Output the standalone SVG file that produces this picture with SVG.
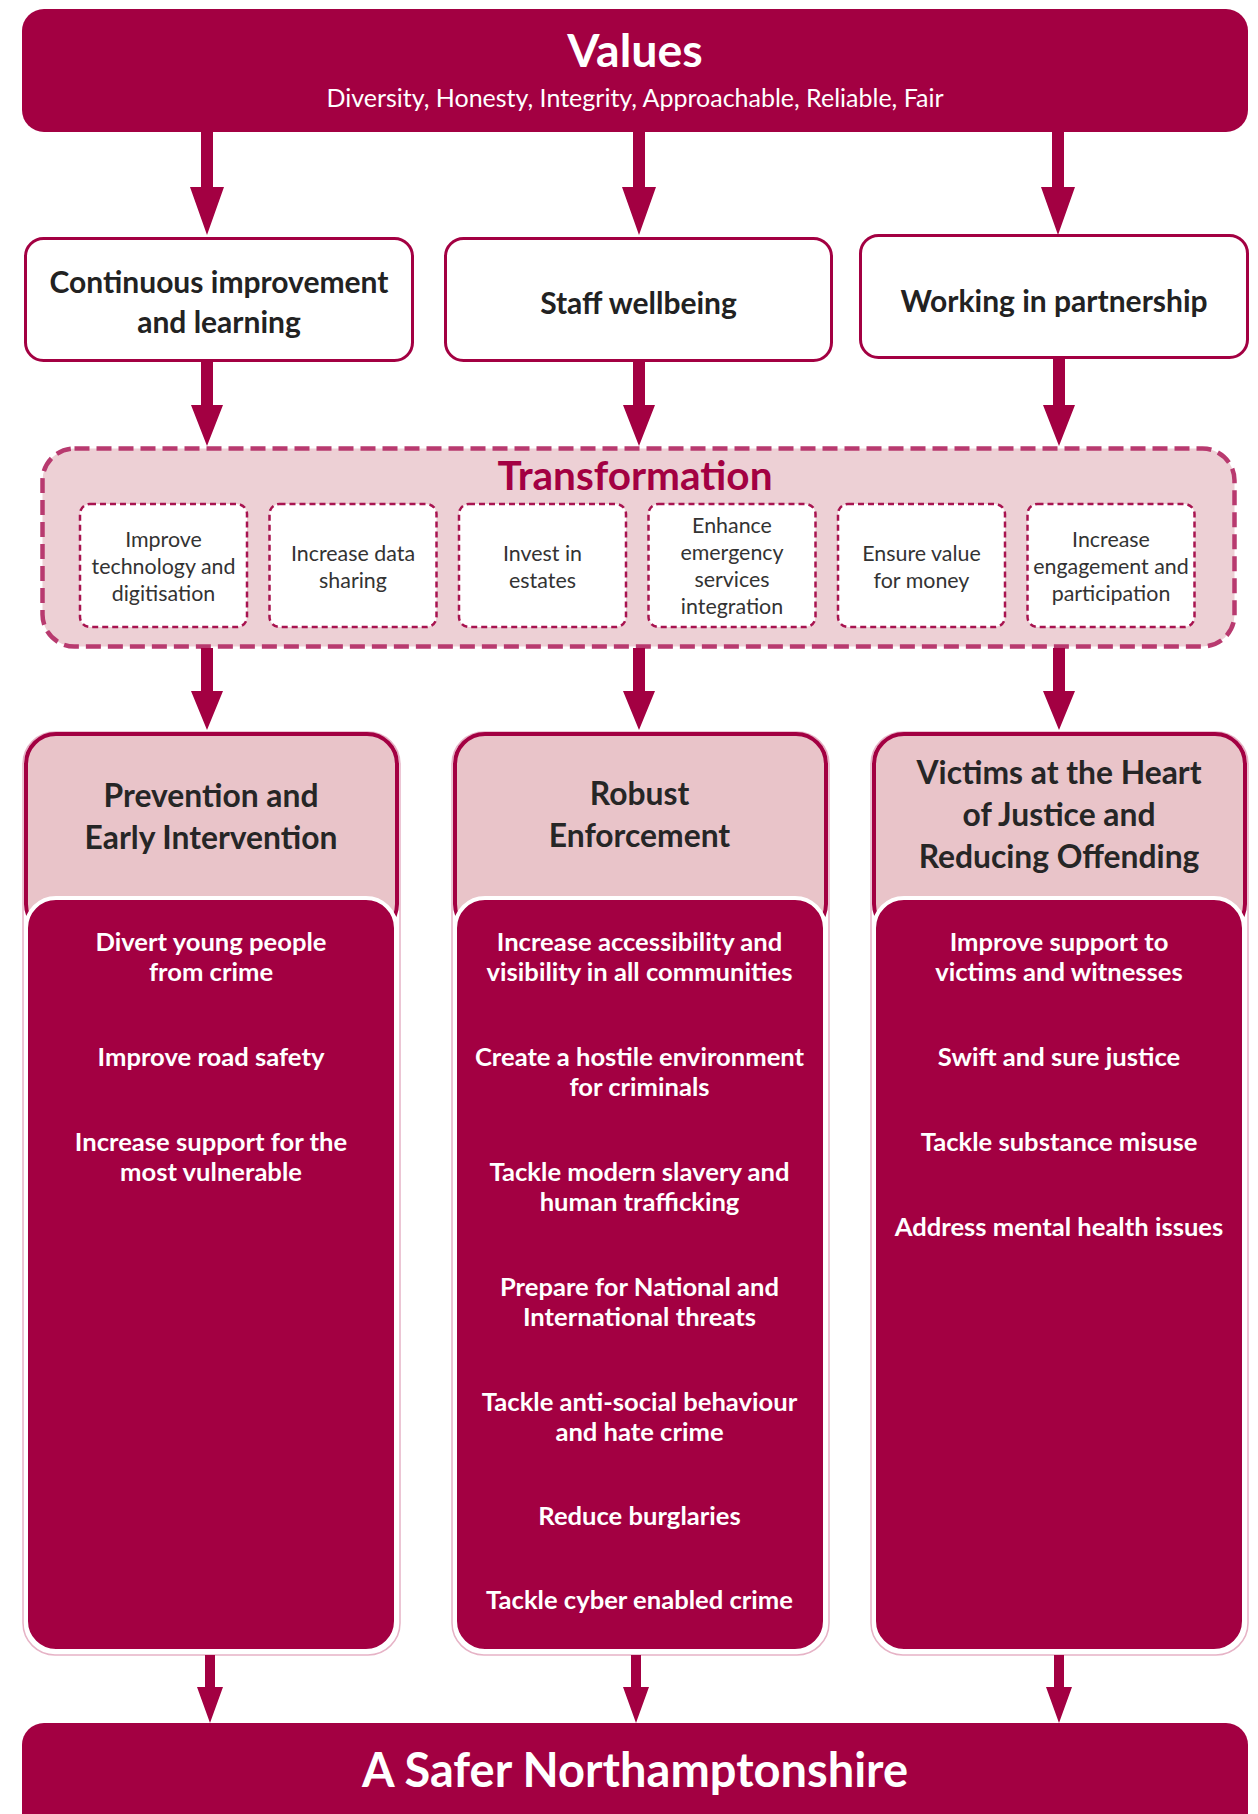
<svg xmlns="http://www.w3.org/2000/svg" width="1258" height="1814" viewBox="0 0 1258 1814">
<style>
  .crim { fill: #a30042; }
  .t { font-family: Lato, "Open Sans", "Liberation Sans", sans-serif; text-anchor: middle; }
  .values { font-size: 46.5px; font-weight: 700; fill: #ffffff; }
  .sub { font-size: 25px; fill: #ffffff; }
  .midbox { fill: #ffffff; stroke: #a30042; stroke-width: 3; }
  .midtxt { font-size: 30px; font-weight: 700; fill: #222222; }
  .trans { fill: #edd0d5; stroke: #b83a6f; stroke-width: 4.5; stroke-dasharray: 15 7; }
  .transtitle { font-size: 40.5px; font-weight: 700; fill: #a30042; }
  .inner { fill: #ffffff; stroke: #a81450; stroke-width: 2.5; stroke-dasharray: 6 4; }
  .innertxt { font-size: 21.4px; fill: #333333; }
  .colout { fill: none; stroke: #e6b3c6; stroke-width: 1.5; }
  .colhead { fill: #e9c4c9; stroke: #a30042; stroke-width: 4; }
  .colpanel { fill: #a30042; stroke: #ffffff; stroke-width: 4; }
  .headtxt { font-size: 31.8px; font-weight: 700; fill: #262626; }
  .item { font-size: 25.6px; font-weight: 700; fill: #ffffff; }
  .final { font-size: 47px; font-weight: 700; fill: #ffffff; }
</style>

<g id="values">
  <rect class="crim" x="22" y="9" width="1226" height="123" rx="22"/>
  <text class="t values" x="635" y="67">Values</text>
  <text class="t sub" x="635" y="107">Diversity, Honesty, Integrity, Approachable, Reliable, Fair</text>
</g>

<g id="continuous-improvement">
  <rect class="midbox" x="25.5" y="238.5" width="387" height="122" rx="18"/>
  <text class="t midtxt" x="219" y="293">Continuous improvement</text>
  <text class="t midtxt" x="219" y="333">and learning</text>
</g>
<g id="staff-wellbeing">
  <rect class="midbox" x="445.5" y="238.5" width="386" height="122" rx="18"/>
  <text class="t midtxt" x="638.5" y="314">Staff wellbeing</text>
</g>
<g id="working-in-partnership">
  <rect class="midbox" x="860.5" y="235.5" width="387" height="122" rx="18"/>
  <text class="t midtxt" x="1054" y="312">Working in partnership</text>
</g>

<g id="transformation">
  <rect class="trans" x="42.5" y="448.5" width="1192" height="198" rx="32"/>
  <text class="t transtitle" x="635" y="490">Transformation</text>
  <g id="t-technology">
    <rect class="inner" x="80" y="504" width="167" height="123" rx="10"/>
    <text class="t innertxt" x="163.5" y="547">Improve</text>
    <text class="t innertxt" x="163.5" y="574">technology and</text>
    <text class="t innertxt" x="163.5" y="601">digitisation</text>
  </g>
  <g id="t-data">
    <rect class="inner" x="269.5" y="504" width="167" height="123" rx="10"/>
    <text class="t innertxt" x="353" y="561">Increase data</text>
    <text class="t innertxt" x="353" y="588">sharing</text>
  </g>
  <g id="t-estates">
    <rect class="inner" x="459" y="504" width="167" height="123" rx="10"/>
    <text class="t innertxt" x="542.5" y="561">Invest in</text>
    <text class="t innertxt" x="542.5" y="588">estates</text>
  </g>
  <g id="t-emergency">
    <rect class="inner" x="648.5" y="504" width="167" height="123" rx="10"/>
    <text class="t innertxt" x="732" y="533">Enhance</text>
    <text class="t innertxt" x="732" y="560">emergency</text>
    <text class="t innertxt" x="732" y="587">services</text>
    <text class="t innertxt" x="732" y="614">integration</text>
  </g>
  <g id="t-value">
    <rect class="inner" x="838" y="504" width="167" height="123" rx="10"/>
    <text class="t innertxt" x="921.5" y="561">Ensure value</text>
    <text class="t innertxt" x="921.5" y="588">for money</text>
  </g>
  <g id="t-engagement">
    <rect class="inner" x="1027.5" y="504" width="167" height="123" rx="10"/>
    <text class="t innertxt" x="1111" y="547">Increase</text>
    <text class="t innertxt" x="1111" y="574">engagement and</text>
    <text class="t innertxt" x="1111" y="601">participation</text>
  </g>
</g>

<g id="prevention">
  <rect class="colout" x="23" y="732" width="377" height="923" rx="32"/>
  <rect class="colhead" x="26" y="734" width="371" height="200" rx="30"/>
  <rect class="colpanel" x="26" y="898" width="370" height="753" rx="30"/>
  <text class="t headtxt" x="211" y="807">Prevention and</text>
  <text class="t headtxt" x="211" y="849">Early Intervention</text>
  <text class="t item" x="211" y="951">Divert young people</text>
  <text class="t item" x="211" y="981">from crime</text>
  <text class="t item" x="211" y="1066">Improve road safety</text>
  <text class="t item" x="211" y="1151">Increase support for the</text>
  <text class="t item" x="211" y="1181">most vulnerable</text>
</g>

<g id="robust-enforcement">
  <rect class="colout" x="452" y="732" width="377" height="923" rx="32"/>
  <rect class="colhead" x="455" y="734" width="371" height="200" rx="30"/>
  <rect class="colpanel" x="455" y="898" width="370" height="753" rx="30"/>
  <text class="t headtxt" x="639.5" y="805">Robust</text>
  <text class="t headtxt" x="639.5" y="847">Enforcement</text>
  <text class="t item" x="639.5" y="951">Increase accessibility and</text>
  <text class="t item" x="639.5" y="981">visibility in all communities</text>
  <text class="t item" x="639.5" y="1066">Create a hostile environment</text>
  <text class="t item" x="639.5" y="1096">for criminals</text>
  <text class="t item" x="639.5" y="1181">Tackle modern slavery and</text>
  <text class="t item" x="639.5" y="1211">human trafficking</text>
  <text class="t item" x="639.5" y="1296">Prepare for National and</text>
  <text class="t item" x="639.5" y="1326">International threats</text>
  <text class="t item" x="639.5" y="1411">Tackle anti-social behaviour</text>
  <text class="t item" x="639.5" y="1441">and hate crime</text>
  <text class="t item" x="639.5" y="1525">Reduce burglaries</text>
  <text class="t item" x="639.5" y="1609">Tackle cyber enabled crime</text>
</g>

<g id="victims">
  <rect class="colout" x="871" y="732" width="377" height="923" rx="32"/>
  <rect class="colhead" x="874" y="734" width="371" height="200" rx="30"/>
  <rect class="colpanel" x="874" y="898" width="370" height="753" rx="30"/>
  <text class="t headtxt" x="1059" y="784">Victims at the Heart</text>
  <text class="t headtxt" x="1059" y="826">of Justice and</text>
  <text class="t headtxt" x="1059" y="868">Reducing Offending</text>
  <text class="t item" x="1059" y="951">Improve support to</text>
  <text class="t item" x="1059" y="981">victims and witnesses</text>
  <text class="t item" x="1059" y="1066">Swift and sure justice</text>
  <text class="t item" x="1059" y="1151">Tackle substance misuse</text>
  <text class="t item" x="1059" y="1236">Address mental health issues</text>
</g>

<g id="safer-northamptonshire">
  <rect class="crim" x="22" y="1723" width="1226" height="130" rx="22"/>
  <text class="t final" x="635" y="1787">A Safer Northamptonshire</text>
</g>

<g id="connectors" class="crim">
  <polygon points="201,132 213,132 213,187 224,187 207,235 190,187 201,187"/>
  <polygon points="633,132 645,132 645,187 656,187 639,235 622,187 633,187"/>
  <polygon points="1052,132 1064,132 1064,187 1075,187 1058,235 1041,187 1052,187"/>
  <polygon points="201,362 213,362 213,405 223,405 207,446 191,405 201,405"/>
  <polygon points="633,362 645,362 645,405 655,405 639,446 623,405 633,405"/>
  <polygon points="1053,359 1065,359 1065,405 1075,405 1059,446 1043,405 1053,405"/>
  <polygon points="201,648 213,648 213,691 223,691 207,730 191,691 201,691"/>
  <polygon points="633,648 645,648 645,691 655,691 639,730 623,691 633,691"/>
  <polygon points="1053,648 1065,648 1065,691 1075,691 1059,730 1043,691 1053,691"/>
  <polygon points="205,1655 215,1655 215,1687 223,1687 210,1723 197,1687 205,1687"/>
  <polygon points="631,1655 641,1655 641,1687 649,1687 636,1723 623,1687 631,1687"/>
  <polygon points="1054,1655 1064,1655 1064,1687 1072,1687 1059,1723 1046,1687 1054,1687"/>
</g>
</svg>
